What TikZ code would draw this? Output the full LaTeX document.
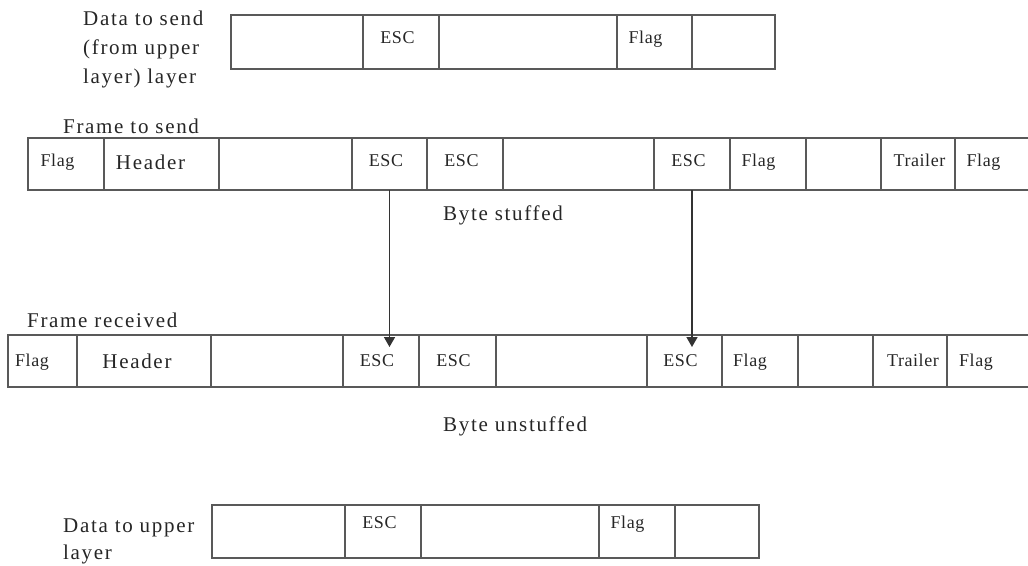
\documentclass[tikz,border=0pt]{standalone}
\usepackage{fontspec}
\setmainfont{Liberation Serif}
\newfontfamily\bigfont[LetterSpace=8]{Liberation Serif}
\newfontfamily\smallfont[LetterSpace=3]{Liberation Serif}
\usetikzlibrary{arrows.meta,calc}
\tikzset{
  cellbox/.style={draw=black!65, line width=1.2pt, outer sep=0pt, inner sep=0pt,
    anchor=north west, text=black!85},
  sm/.style={font=\smallfont\fontsize{18}{20}\selectfont},
  bg/.style={font=\bigfont\fontsize{21}{29}\selectfont, text=black!85, inner sep=0pt},
  lsh/.style={execute at end node={\hspace*{#1}}},
  rsh/.style={execute at begin node={\hspace*{#1}}},
  rowa/.style={sm, text height=2pt, text depth=0pt, lsh=7pt},
  rowb/.style={sm, text height=4pt, text depth=0pt, lsh=7pt},
  rowc/.style={sm, text height=10pt, text depth=0pt, lsh=8pt},
  rowd/.style={sm, text height=0pt, text depth=6pt, lsh=7pt},
  arr/.style={draw=black!80, line width=1.6pt, -{Triangle[length=10pt,width=11pt]}}
}
\newcommand\cellnode[7][]{\node[cellbox,#1,minimum width={#4-#3},minimum height={#6-#5}] (#2) at (#3,#5) {#7};}
\begin{document}
\begin{tikzpicture}[x=1pt,y=-1pt]
\useasboundingbox (0,0) rectangle (1028,565);
% labels
\node[bg, anchor=north west, align=left] (lab1) at (83,10.7) {Data to send\\(from upper\\layer) layer};
\node[bg, anchor=base west] (lab2) at (63,133) {Frame to send};
\node[bg, anchor=base west] (lab3) at (27,327) {Frame received};
\node[bg, anchor=base west] (st) at (443,220) {Byte stuffed};
\node[bg, anchor=base west] (ust) at (443,431) {Byte unstuffed};
\node[bg, font=\bigfont\fontsize{21}{27}\selectfont, anchor=north west, align=left] (lab4) at (63,518.7) {Data to upper\\layer};
% row 1
\cellnode{a1}{231}{363}{15}{69}{}
\cellnode[rowa]{a2}{363}{439}{15}{69}{ESC}
\cellnode{a3}{439}{617}{15}{69}{}
\cellnode[rowa,lsh=11pt]{a4}{617}{692}{15}{69}{Flag}
\cellnode{a5}{692}{775}{15}{69}{}
% row 2
\cellnode[rowb,lsh=10pt]{s1}{28}{104}{138}{190}{Flag}
\cellnode[bg,text height=10.6pt,text depth=0pt,lsh=22pt]{s2}{104}{219}{138}{190}{Header}
\cellnode{s3}{219}{352}{138}{190}{}
\cellnode[rowb]{s4}{352}{427}{138}{190}{ESC}
\cellnode[rowb]{s5}{427}{503}{138}{190}{ESC}
\cellnode{s6}{503}{654}{138}{190}{}
\cellnode[rowb]{s7}{654}{730}{138}{190}{ESC}
\cellnode[rowb,lsh=12pt]{s8}{730}{806}{138}{190}{Flag}
\cellnode{s9}{806}{881}{138}{190}{}
\cellnode[rowb,lsh=0pt,rsh=10pt]{s10}{881}{955}{138}{190}{Trailer}
\cellnode[rowb,lsh=11pt]{s11}{955}{1030}{138}{190}{Flag}
% row 3
\cellnode[rowc,lsh=13pt]{r1}{8}{77}{335}{387}{Flag}
\cellnode[bg,text height=15pt,text depth=0pt,lsh=14pt]{r2}{77}{211}{335}{387}{Header}
\cellnode{r3}{211}{343}{335}{387}{}
\cellnode[rowc]{r4}{343}{419}{335}{387}{ESC}
\cellnode[rowc]{r5}{419}{496}{335}{387}{ESC}
\cellnode{r6}{496}{647}{335}{387}{}
\cellnode[rowc]{r7}{647}{722}{335}{387}{ESC}
\cellnode[rowc,lsh=12pt]{r8}{722}{798}{335}{387}{Flag}
\cellnode{r9}{798}{873}{335}{387}{}
\cellnode[rowc,lsh=0pt,rsh=14pt]{r10}{873}{947}{335}{387}{Trailer}
\cellnode[rowc,lsh=17pt]{r11}{947}{1030}{335}{387}{Flag}
% row 4
\cellnode{d1}{212}{345}{505}{558}{}
\cellnode[rowd]{d2}{345}{421}{505}{558}{ESC}
\cellnode{d3}{421}{599}{505}{558}{}
\cellnode[rowd,lsh=12pt]{d4}{599}{675}{505}{558}{Flag}
\cellnode{d5}{675}{759}{505}{558}{}
% arrows
\draw[arr] (s4.south) -- ($(s4.south |- r4.north)+(0,12)$);
\draw[arr] (s7.south) -- ($(s7.south |- r7.north)+(0,12)$);
\end{tikzpicture}
\end{document}
